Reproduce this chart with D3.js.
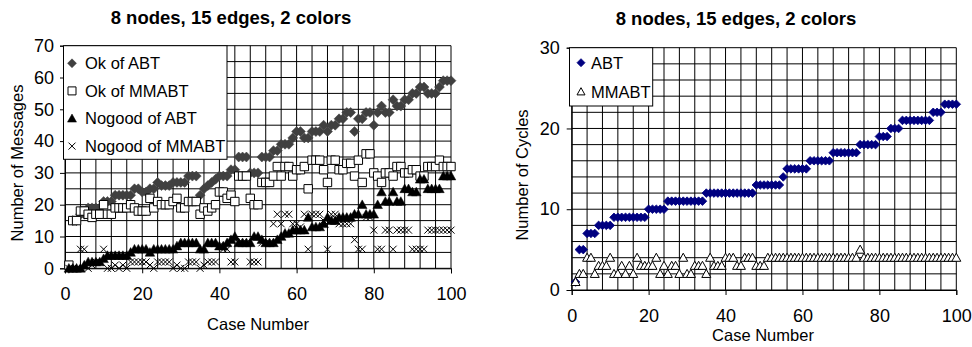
<!DOCTYPE html>
<html>
<head>
<meta charset="utf-8">
<script src="https://cdn.jsdelivr.net/npm/d3@7"></script>
<style>
  html, body { margin: 0; padding: 0; background: #fff; }
  svg { display: block; font-family: "Liberation Sans", Arial, sans-serif; }
</style>
</head>
<body>
<svg id="chart" width="972" height="347"></svg>
<script>
// ---------- data ----------
const caseNumbers = d3.range(1, 101);

const okABT = [0,15,15,17,17,19,19,19,19,21, 21,21,23,23,23,23,23,25,25,24,
  24,25,25,27,26,26,26,27,27,27, 27,29,29,29,23,25,26,27,28,29,
  29,29,31,31,35,35,35,30,30,30, 35,35,35,37,37,39,39,39,41,43,
  43,41,41,43,43,43,45,43,45,45, 47,47,49,49,43,47,47,49,49,45,
  49,51,49,49,53,51,51,53,53,55, 55,57,57,55,55,55,57,59,59,59];

const okMMABT = [1,15,15,18,18,17,16,17,17,20, 17,17,19,19,19,19,20,19,18,18,
  18,22,19,21,20,20,20,21,22,19, 19,21,21,21,17,19,18,19,20,24,
  24,22,23,21,29,29,29,22,20,20, 27,27,27,29,32,29,32,32,29,31,
  31,32,25,34,34,34,31,27,34,34, 31,31,33,33,29,34,27,36,36,30,
  29,27,30,30,29,32,32,30,30,31, 31,29,29,32,32,32,34,32,32,32];

const nogoodABT = [0,0,0,0,1,2,2,2,2,3, 4,4,4,4,4,4,5,6,6,6,
  6,5,6,6,6,6,6,6,7,8, 8,8,8,8,6,6,8,8,8,7,
  7,8,9,10,8,8,8,8,10,10, 9,8,8,8,9,10,11,11,12,12,
  12,12,16,13,13,13,14,16,15,15, 16,16,16,16,17,17,20,17,17,17,
  20,24,21,21,24,21,21,25,25,24, 24,28,28,25,25,25,25,29,29,29];

const nogoodMMABT = [0,0,0,6,6,0,1,2,2,6, 0,0,1,0,1,0,2,2,2,2,
  2,1,0,2,2,2,2,0,1,0, 0,2,2,2,0,1,2,2,2,7,
  6,6,2,2,8,8,8,2,2,2, 8,8,8,14,17,14,17,17,14,14,
  13,17,6,17,17,17,15,6,17,17, 14,14,14,14,9,6,6,16,16,12,
  6,6,12,12,6,12,12,12,12,6, 6,6,6,12,12,12,12,12,12,12];

const cyclesABT = [1,5,5,7,7,7,8,8,8,8, 9,9,9,9,9,9,9,9,9,10,
  10,10,10,10,11,11,11,11,11,11, 11,11,11,11,12,12,12,12,12,12,
  12,12,12,12,12,12,12,13,13,13, 13,13,13,13,14,15,15,15,15,15,
  15,16,16,16,16,16,16,17,17,17, 17,17,17,17,18,18,18,18,18,19,
  19,19,20,20,20,21,21,21,21,21, 21,21,21,22,22,22,23,23,23,23];

const cyclesMMABT = [1,2,2,4,4,2,3,3,3,4, 2,2,3,2,3,2,4,3,3,3,
  3,4,2,3,2,3,3,2,4,2, 2,3,3,3,2,4,3,3,3,4,
  4,4,3,3,4,4,4,3,3,3, 4,4,4,4,4,4,4,4,4,4,
  4,4,4,4,4,4,4,4,4,4, 4,4,4,4,5,4,4,4,4,4,
  4,4,4,4,4,4,4,4,4,4, 4,4,4,4,4,4,4,4,4,4];

const titleText = "8 nodes, 15 edges, 2 colors";
const xTickValues = [0, 20, 40, 60, 80, 100];
const leftYTicks = [0, 10, 20, 30, 40, 50, 60, 70];
const rightYTicks = [0, 10, 20, 30];
const leftLegend = ["Ok of ABT", "Ok of MMABT", "Nogood of ABT", "Nogood of MMABT"];
const rightLegend = ["ABT", "MMABT"];

// ---------- marker shapes ----------
const shapes = {
  diamond: r => `M0,${-r}L${r},0L0,${r}L${-r},0Z`,
  square: r => `M${-r},${-r}H${r}V${r}H${-r}Z`,
  triangle: r => `M0,${-r}L${r},${r*0.8}L${-r},${r*0.8}Z`,
  cross: r => `M${-r},${-r}L${r},${r}M${-r},${r}L${r},${-r}`
};

const svg = d3.select("#chart");

function drawChart(cfg) {
  const g = svg.append("g");
  const x = d3.scaleLinear().domain([0, 100]).range([cfg.x0, cfg.x1]);
  const y = d3.scaleLinear().domain([0, cfg.yMax]).range([cfg.y0, cfg.y1]);

  // gridlines
  const grid = g.append("g");
  grid.selectAll("line.h").data(d3.range(0, cfg.yMax + 0.001, cfg.yGrid)).join("line")
    .attr("x1", cfg.x0).attr("x2", cfg.x1)
    .attr("y1", d => y(d)).attr("y2", d => y(d))
    .attr("stroke", "#000").attr("stroke-width", 1);
  grid.selectAll("line.v").data(d3.range(0, 100.001, 4)).join("line")
    .attr("x1", d => x(d)).attr("x2", d => x(d))
    .attr("y1", cfg.y0).attr("y2", cfg.y1)
    .attr("stroke", "#000").attr("stroke-width", 1);

  // axes
  const xAxis = d3.axisBottom(x).tickValues(xTickValues).tickSize(5).tickPadding(14);
  const yAxis = d3.axisLeft(y).tickValues(cfg.yTicks).tickSize(5).tickPadding(cfg.yPad);
  const gx = g.append("g").attr("transform", `translate(0,${cfg.y0})`).call(xAxis);
  const gy = g.append("g").attr("transform", `translate(${cfg.x0},0)`).call(yAxis);
  [gx, gy].forEach(a => {
    a.select(".domain").attr("stroke", "#000");
    a.selectAll(".tick line").attr("stroke", "#000");
    a.selectAll(".tick text").attr("font-size", 18).attr("fill", "#000")
      .attr("font-family", "Liberation Sans, Arial, sans-serif");
  });

  // series
  cfg.series.forEach(s => {
    g.append("g").selectAll("path").data(s.values).join("path")
      .attr("transform", (d, i) => `translate(${x(caseNumbers[i])},${y(d)})`)
      .attr("d", shapes[s.shape](s.r))
      .attr("fill", s.fill).attr("stroke", s.stroke).attr("stroke-width", s.sw);
  });

  // legend
  const lg = g.append("g");
  lg.append("rect").attr("x", cfg.legend.x).attr("y", cfg.legend.y)
    .attr("width", cfg.legend.w).attr("height", cfg.legend.h)
    .attr("fill", "#fff").attr("stroke", "#000").attr("stroke-width", 1);
  cfg.series.forEach((s, i) => {
    const cy = cfg.legend.y + cfg.legend.firstRow + i * cfg.legend.step;
    lg.append("path").attr("transform", `translate(${cfg.legend.mx},${cy})`)
      .attr("d", shapes[s.shape](s.lr)).attr("fill", s.fill).attr("stroke", s.stroke)
      .attr("stroke-width", s.sw);
    lg.append("text").attr("x", cfg.legend.tx).attr("y", cy).attr("dy", "0.36em")
      .attr("font-size", 16.5).attr("fill", "#000").text(cfg.legendLabels[i]);
  });

  // titles
  g.append("text").attr("x", cfg.titleX).attr("y", cfg.titleY).attr("text-anchor", "middle")
    .attr("font-size", 18.5).attr("font-weight", "bold").text(titleText);
  g.append("text").attr("x", cfg.xLabelX).attr("y", cfg.xLabelY).attr("text-anchor", "middle")
    .attr("font-size", 16.5).text("Case Number");
  g.append("text").attr("transform", `translate(${cfg.yLabelX},${cfg.yLabelY}) rotate(-90)`)
    .attr("text-anchor", "middle").attr("font-size", 16.5).text(cfg.yLabel);
}

drawChart({
  x0: 65, x1: 451, y0: 268.3, y1: 45.7, yMax: 70, yGrid: 5, yTicks: leftYTicks, yPad: 6,
  series: [
    { values: okABT, shape: "diamond", r: 5, lr: 4.5, fill: "#404040", stroke: "#404040", sw: 0.5 },
    { values: okMMABT, shape: "square", r: 4.2, lr: 4, fill: "#fff", stroke: "#000", sw: 1 },
    { values: nogoodABT, shape: "triangle", r: 4.8, lr: 4.5, fill: "#000", stroke: "#000", sw: 0.5 },
    { values: nogoodMMABT, shape: "cross", r: 3.5, lr: 3.5, fill: "none", stroke: "#000", sw: 1 }
  ],
  legend: { x: 63.5, y: 45.7, w: 163.5, h: 113.6, firstRow: 17.6, step: 27.6, mx: 72, tx: 85 },
  legendLabels: leftLegend,
  titleX: 231, titleY: 23.5, xLabelX: 258, xLabelY: 330,
  yLabelX: 22.5, yLabelY: 163, yLabel: "Number of Messages"
});

drawChart({
  x0: 571.7, x1: 956.3, y0: 290, y1: 47.7, yMax: 30, yGrid: 2, yTicks: rightYTicks, yPad: 7,
  series: [
    { values: cyclesABT, shape: "diamond", r: 4.3, lr: 4, fill: "#000080", stroke: "#000080", sw: 0.8 },
    { values: cyclesMMABT, shape: "triangle", r: 4.5, lr: 4, fill: "#fff", stroke: "#000", sw: 1 }
  ],
  legend: { x: 569.5, y: 47.7, w: 83.2, h: 58.3, firstRow: 15, step: 29, mx: 581, tx: 591 },
  legendLabels: rightLegend,
  titleX: 736, titleY: 25, xLabelX: 763, xLabelY: 341,
  yLabelX: 528, yLabelY: 175, yLabel: "Number of Cycles"
});
</script>
</body>
</html>
